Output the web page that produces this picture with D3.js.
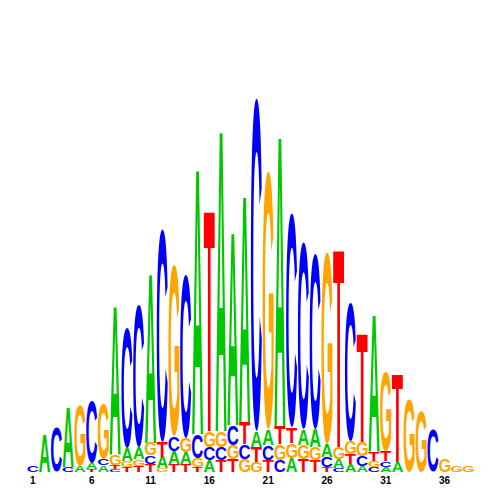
<!DOCTYPE html>
<html>
<head>
<meta charset="utf-8">
<script src="https://cdn.jsdelivr.net/npm/d3@7"></script>
<style>
  body { margin: 0; background: #fff; }
</style>
</head>
<body>
<svg id="logo" width="500" height="500"></svg>
<script>
// positions of the motif
var positions = [1,2,3,4,5,6,7,8,9,10,11,12,13,14,15,16,17,18,19,20,21,22,23,24,25,26,27,28,29,30,31,32,33,34,35,36,37,38];
// letter heights in bits, one value per position
var A = [0,.185,0,.30,.03,.03,.033,.75,.065,.06,.85,.055,.065,.06,1.335,.06,1.515,.97,1.14,.08,.08,1.46,.07,.08,.09,.065,.045,.04,.03,.69,.025,.05,0,0,0,0,0,0];
var C = [.035,0,.225,.025,0,.31,.035,.015,.60,.71,.042,1.065,.075,.82,.12,.065,.065,.10,.075,1.665,.075,.06,1.07,.935,.875,.05,.02,.695,.05,.025,.028,0,0,0,.21,0,0,0];
var G = [0,0,0,0,.30,0,.277,.05,.03,.035,.065,.02,.855,.07,.045,.08,.08,.07,.065,.05,1.29,.08,.075,.07,.065,.96,.06,.065,.07,.03,.397,0,.36,.30,0,.065,.035,.03];
var T = [0,0,0,0,0,.015,0,.02,.025,.03,.04,.075,.04,.04,.025,1.11,.06,.065,.11,.075,.06,.09,.08,.065,.06,.025,.995,.05,.545,.045,.05,.44,0,0,0,0,0,0];
var tickLabels = [1,6,11,16,21,26,31,36];

var colors = {A: "#00c800", C: "#0000ff", G: "#ffa500", T: "#ff0000"};
var fontFam = "'Liberation Sans', Arial, sans-serif";

var svg = d3.select("#logo");

var x = d3.scaleBand().domain(positions).range([27, 474]).paddingInner(0.06).paddingOuter(0.03);
var y = d3.scaleLinear().domain([0, 2]).range([472, 72]);

// tight ink bounds of each glyph, measured once
var ctx = document.createElement("canvas").getContext("2d");
ctx.font = "bold 100px " + fontFam;
var metrics = {};
["A","C","G","T"].forEach(function(l) {
  var m = ctx.measureText(l);
  metrics[l] = {left: m.actualBoundingBoxLeft, right: m.actualBoundingBoxRight,
                asc: m.actualBoundingBoxAscent, desc: m.actualBoundingBoxDescent};
});

// build the stacks, smallest at the bottom
var stacks = positions.map(function(p, i) {
  var col = [{l: "A", v: A[i]}, {l: "C", v: C[i]}, {l: "G", v: G[i]}, {l: "T", v: T[i]}]
    .filter(function(d) { return d.v > 0; })
    .sort(function(a, b) { return a.v - b.v; });
  var base = 0;
  col.forEach(function(d) { d.y0 = base; base += d.v; d.y1 = base; d.pos = p; });
  return col;
});

var cols = svg.selectAll("g.col")
  .data(stacks)
  .enter().append("g")
  .attr("class", "col");

cols.selectAll("text")
  .data(function(d) { return d; })
  .enter().append("text")
  .attr("x", 0).attr("y", 0)
  .attr("font-family", fontFam)
  .attr("font-weight", "bold")
  .attr("font-size", "100px")
  .attr("fill", function(d) { return colors[d.l]; })
  .attr("transform", function(d) {
    var m = metrics[d.l];
    var w = x.bandwidth();
    var ph = y(d.y0) - y(d.y1);
    var sx = w / (m.left + m.right);
    var sy = ph / (m.asc + m.desc);
    return "translate(" + (x(d.pos) + m.left * sx) + "," + (y(d.y0) - m.desc * sy) + ") scale(" + sx + "," + sy + ")";
  })
  .text(function(d) { return d.l; });

// position numbers under the logo
var xAxis = d3.axisBottom(x).tickValues(tickLabels).tickSize(0).tickPadding(5);
var ax = svg.append("g")
  .attr("transform", "translate(0,472)")
  .call(xAxis);
ax.select(".domain").remove();
ax.selectAll("text")
  .attr("font-family", fontFam)
  .attr("font-weight", "bold")
  .attr("font-size", "10px")
  .attr("fill", "#000");
</script>
</body>
</html>
